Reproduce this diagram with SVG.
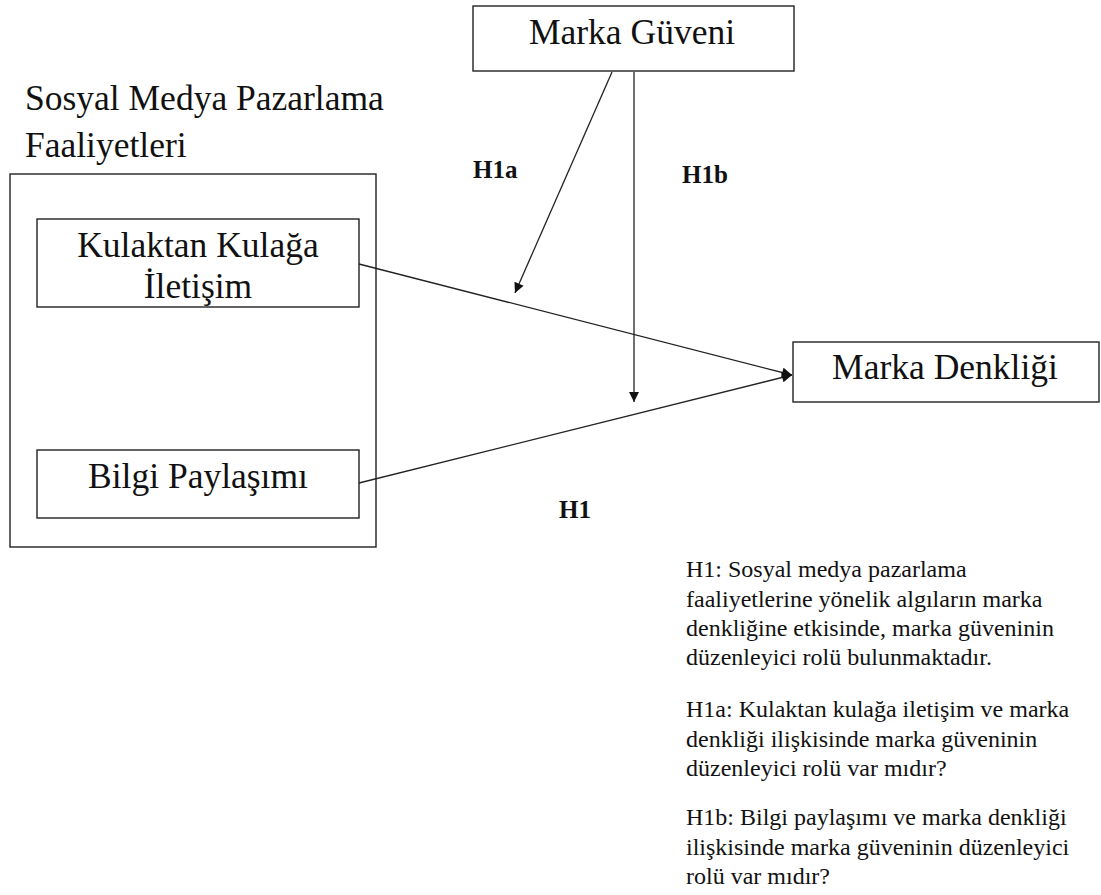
<svg xmlns="http://www.w3.org/2000/svg" width="1101" height="895" viewBox="0 0 1101 895">
<defs>
<marker id="arr" viewBox="0 0 10 10" refX="10" refY="5" markerWidth="12" markerHeight="10" markerUnits="userSpaceOnUse" orient="auto">
<path d="M0,0 L10,5 L0,10 z" fill="#111"/>
</marker>
<style>
.box{fill:#fff;stroke:#222;stroke-width:1.4}
.lbl{font-family:"Liberation Serif","Times New Roman",serif;font-size:35.5px;fill:#111}
.hyp{font-family:"Liberation Serif","Times New Roman",serif;font-size:24px;fill:#111}
.h{font-family:"Liberation Serif","Times New Roman",serif;font-size:25px;font-weight:bold;fill:#111}
.con{fill:none;stroke:#222;stroke-width:1.3;marker-end:url(#arr)}
</style>
</defs>
<rect width="1101" height="895" fill="#fff"/>
<g id="smm">
<text class="lbl" x="25" y="110">Sosyal Medya Pazarlama</text>
<text class="lbl" x="25" y="157">Faaliyetleri</text>
<rect class="box" x="10" y="174" width="366" height="373"/>
</g>
<g id="kulaktan">
<rect class="box" x="37" y="219" width="322" height="88"/>
<text class="lbl" x="198" y="257" text-anchor="middle">Kulaktan Kulağa</text>
<text class="lbl" x="198" y="298" text-anchor="middle">İletişim</text>
</g>
<g id="bilgi">
<rect class="box" x="37" y="450" width="322" height="68"/>
<text class="lbl" x="198" y="488" text-anchor="middle">Bilgi Paylaşımı</text>
</g>
<g id="guven">
<rect class="box" x="473" y="6" width="321" height="65"/>
<text class="lbl" x="632" y="44" text-anchor="middle">Marka Güveni</text>
</g>
<g id="denklik">
<rect class="box" x="793" y="342" width="306" height="60"/>
<text class="lbl" x="945" y="379" text-anchor="middle">Marka Denkliği</text>
</g>
<g id="connectors">
<line class="con" x1="359" y1="264" x2="792" y2="375"/>
<line class="con" x1="359" y1="483" x2="792" y2="375"/>
<line class="con" x1="612" y1="72" x2="515" y2="293"/>
<line class="con" x1="634" y1="72" x2="634" y2="402"/>
</g>
<g id="labels">
<text class="h" x="473" y="178">H1a</text>
<text class="h" x="682" y="183">H1b</text>
<text class="h" x="559" y="518">H1</text>
</g>
<g id="hypotheses">
<text class="hyp" x="686" y="577">H1: Sosyal medya pazarlama</text>
<text class="hyp" x="686" y="607">faaliyetlerine yönelik algıların marka</text>
<text class="hyp" x="686" y="636">denkliğine etkisinde, marka güveninin</text>
<text class="hyp" x="686" y="665">düzenleyici rolü bulunmaktadır.</text>
<text class="hyp" x="686" y="717">H1a: Kulaktan kulağa iletişim ve marka</text>
<text class="hyp" x="686" y="747">denkliği ilişkisinde marka güveninin</text>
<text class="hyp" x="686" y="776">düzenleyici rolü var mıdır?</text>
<text class="hyp" x="686" y="825">H1b: Bilgi paylaşımı ve marka denkliği</text>
<text class="hyp" x="686" y="855">ilişkisinde marka güveninin düzenleyici</text>
<text class="hyp" x="686" y="884">rolü var mıdır?</text>
</g>
</svg>
